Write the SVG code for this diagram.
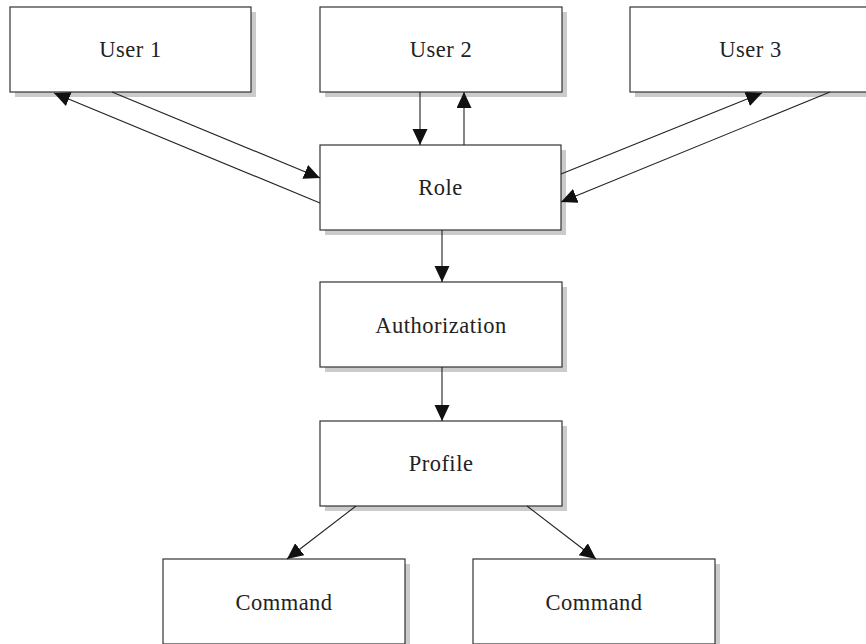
<svg xmlns="http://www.w3.org/2000/svg" width="866" height="644" viewBox="0 0 866 644">
<style>
.sh{fill:#cbcbcb;stroke:none}
.bx{fill:#fff;stroke:#333;stroke-width:1.2}
.lb{font-family:"Liberation Serif","DejaVu Serif",serif;font-size:22.5px;fill:#222;text-anchor:middle;letter-spacing:0.5px}
.cn{stroke:#222;stroke-width:1.1;fill:none;marker-end:url(#ah)}
</style>
<defs>
<marker id="ah" markerUnits="userSpaceOnUse" markerWidth="18" markerHeight="16" refX="16" refY="7.5" orient="auto">
<path d="M0,0 L16,7.5 L0,15 Z" fill="#111"/>
</marker>
</defs>
<rect width="866" height="644" fill="#fff"/>
<g id="user1"><rect class="sh" x="15" y="12" width="241" height="85"/><rect class="bx" x="10" y="7" width="241" height="85"/><text class="lb" x="130.5" y="57">User 1</text></g>
<g id="user2"><rect class="sh" x="325" y="12" width="242" height="85"/><rect class="bx" x="320" y="7" width="242" height="85"/><text class="lb" x="441" y="57">User 2</text></g>
<g id="user3"><rect class="sh" x="635" y="12" width="241" height="85"/><rect class="bx" x="630" y="7" width="241" height="85"/><text class="lb" x="750.5" y="57">User 3</text></g>
<g id="role"><rect class="sh" x="325" y="150" width="241" height="85"/><rect class="bx" x="320" y="145" width="241" height="85"/><text class="lb" x="440.5" y="195">Role</text></g>
<g id="authorization"><rect class="sh" x="325" y="287" width="242" height="85"/><rect class="bx" x="320" y="282" width="242" height="85"/><text class="lb" x="441" y="333">Authorization</text></g>
<g id="profile"><rect class="sh" x="325" y="426" width="242" height="85"/><rect class="bx" x="320" y="421" width="242" height="85"/><text class="lb" x="441" y="471">Profile</text></g>
<g id="command1"><rect class="sh" x="168" y="564" width="242" height="85"/><rect class="bx" x="163" y="559" width="242" height="85"/><text class="lb" x="284" y="610">Command</text></g>
<g id="command2"><rect class="sh" x="478" y="564" width="242" height="85"/><rect class="bx" x="473" y="559" width="242" height="85"/><text class="lb" x="594" y="610">Command</text></g>
<g id="connectors">
<line class="cn" x1="112" y1="92" x2="320" y2="178"/>
<line class="cn" x1="320" y1="203" x2="54" y2="93"/>
<line class="cn" x1="420" y1="92" x2="420" y2="145"/>
<line class="cn" x1="464" y1="145" x2="464" y2="92"/>
<line class="cn" x1="561" y1="174" x2="762" y2="93"/>
<line class="cn" x1="830" y1="92" x2="561" y2="202"/>
<line class="cn" x1="442" y1="230" x2="442" y2="282"/>
<line class="cn" x1="442" y1="367" x2="442" y2="421"/>
<line class="cn" x1="356" y1="506" x2="287" y2="559"/>
<line class="cn" x1="527" y1="506" x2="596" y2="559"/>
</g>
</svg>
